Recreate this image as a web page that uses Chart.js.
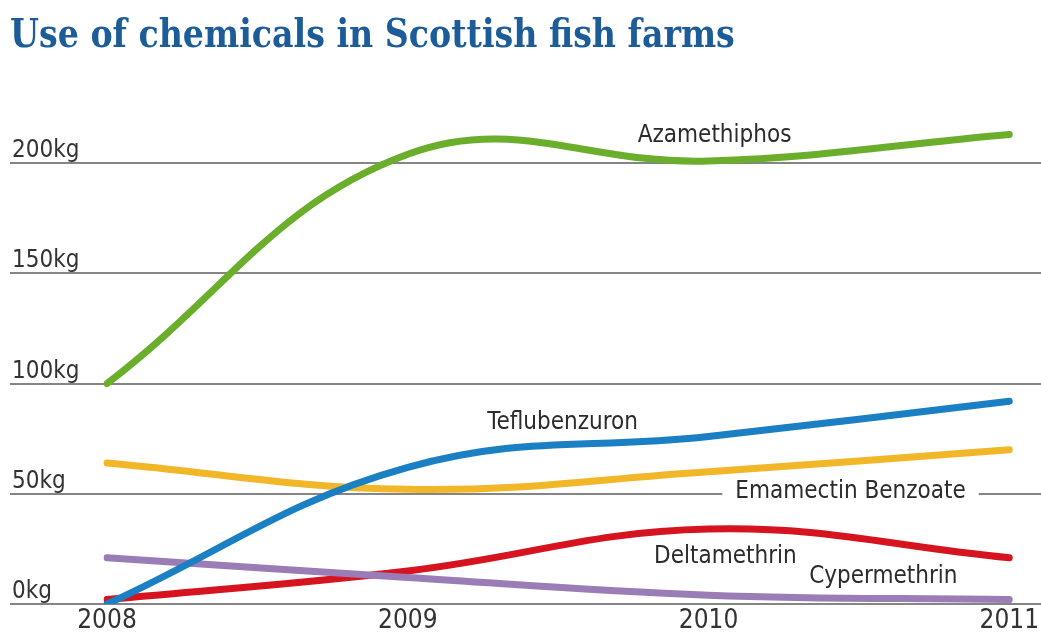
<!DOCTYPE html>
<html>
<head>
<meta charset="utf-8">
<script src="https://cdn.jsdelivr.net/npm/chart.js@4.4.1/dist/chart.umd.min.js"></script>
<style>
  html, body { margin: 0; padding: 0; background: #fff; }
  #wrap { position: relative; width: 1041px; height: 639px; overflow: hidden; }
  #title {
    position: absolute; left: 10px; top: 13px; margin: 0;
    font-family: 'DejaVu Serif Condensed', 'DejaVu Serif', serif;
    font-stretch: condensed; font-weight: bold; font-size: 40px; line-height: 40px;
    color: #1c5c98; white-space: nowrap; transform-origin: left top;
  }
  canvas { position: absolute; left: 0; top: 0; }
</style>
</head>
<body>
<div id="wrap">
  <canvas id="chart" width="1041" height="639"></canvas>
  <h1 id="title">Use of chemicals in Scottish fish farms</h1>
</div>
<script>
// valores (kg por ano)
const years = ['2008', '2009', '2010', '2011'];
const azamethiphos = [100, 204, 201, 213];
const teflubenzuron = [0, 62, 76, 92];
const emamectin = [64, 52, 60, 70];
const deltamethrin = [2, 15, 34, 21];
const cypermethrin = [21, 12, 4, 2];
const yTicks = [0, 50, 100, 150, 200];
const yMax = 230;

const labelFont = "'DejaVu Sans Condensed', 'Liberation Sans Narrow', 'DejaVu Sans', sans-serif";

// rótulos das séries, em coordenadas de dados (índice do ano, kg)
const seriesLabels = [
    { text: 'Azamethiphos', x: 2.02, y: 209.5 },
    { text: 'Teflubenzuron', x: 1.515, y: 79.4 },
    { text: 'Emamectin Benzoate', x: 2.472, y: 48.1, box: true },
    { text: 'Deltamethrin', x: 2.056, y: 18.6 },
    { text: 'Cypermethrin', x: 2.581, y: 9.5 }
];

// ajustar o título à largura original
const title = document.getElementById('title');
title.style.transform = 'scaleX(' + (725 / title.scrollWidth) + ')';

// linhas de grade e rótulos do eixo y, de ponta a ponta
const gridPlugin = {
    id: 'gridPlugin',
    beforeDatasetsDraw(chart) {
        const ctx = chart.ctx;
        const y = chart.scales.y;
        ctx.save();
        ctx.strokeStyle = '#858585';
        ctx.lineWidth = 2;
        ctx.fillStyle = '#333';
        ctx.font = '24px ' + labelFont;
        ctx.textAlign = 'left';
        ctx.textBaseline = 'alphabetic';
        yTicks.forEach(function(v) {
            const py = Math.round(y.getPixelForValue(v));
            ctx.beginPath();
            ctx.moveTo(10, py);
            ctx.lineTo(chart.width, py);
            ctx.stroke();
            ctx.fillText(v + 'kg', 12, py - 6);
        });
        ctx.restore();
    },
    afterDatasetsDraw(chart) {
        const ctx = chart.ctx;
        const xs = chart.scales.x;
        const ys = chart.scales.y;
        ctx.save();
        ctx.font = '24px ' + labelFont;
        ctx.textAlign = 'center';
        ctx.textBaseline = 'alphabetic';
        seriesLabels.forEach(function(l) {
            const px = xs.getPixelForValue(l.x);
            const py = ys.getPixelForValue(l.y);
            if (l.box) {
                const w = ctx.measureText(l.text).width;
                ctx.fillStyle = '#fff';
                ctx.fillRect(px - w / 2 - 13, py - 20, w + 26, 28);
            }
            ctx.fillStyle = '#2b2b2b';
            ctx.fillText(l.text, px, py);
        });
        ctx.restore();
    }
};

function serie(label, data, color) {
    return {
        label: label,
        data: data,
        borderColor: color,
        backgroundColor: color,
        borderWidth: 7,
        borderCapStyle: 'round',
        borderJoinStyle: 'round',
        pointRadius: 0,
        tension: 0.4,
        fill: false
    };
}

new Chart(document.getElementById('chart'), {
    type: 'line',
    data: {
        labels: years,
        datasets: [
            serie('Azamethiphos', azamethiphos, '#6aae2c'),
            serie('Teflubenzuron', teflubenzuron, '#1b7fc3'),
            serie('Cypermethrin', cypermethrin, '#9a7db7'),
            serie('Emamectin Benzoate', emamectin, '#f1b728'),
            serie('Deltamethrin', deltamethrin, '#d6141f')
        ]
    },
    options: {
        responsive: false,
        animation: false,
        layout: { padding: { left: 107, right: 31, top: 97, bottom: 0 } },
        plugins: {
            legend: { display: false },
            tooltip: { enabled: false }
        },
        scales: {
            x: {
                type: 'category',
                offset: false,
                grid: { display: false, drawTicks: false },
                border: { display: false },
                ticks: {
                    color: '#333',
                    font: { family: labelFont, size: 26 },
                    padding: 1.9,
                    maxRotation: 0
                }
            },
            y: {
                display: false,
                min: 0,
                max: yMax
            }
        }
    },
    plugins: [gridPlugin]
});
</script>
</body>
</html>
